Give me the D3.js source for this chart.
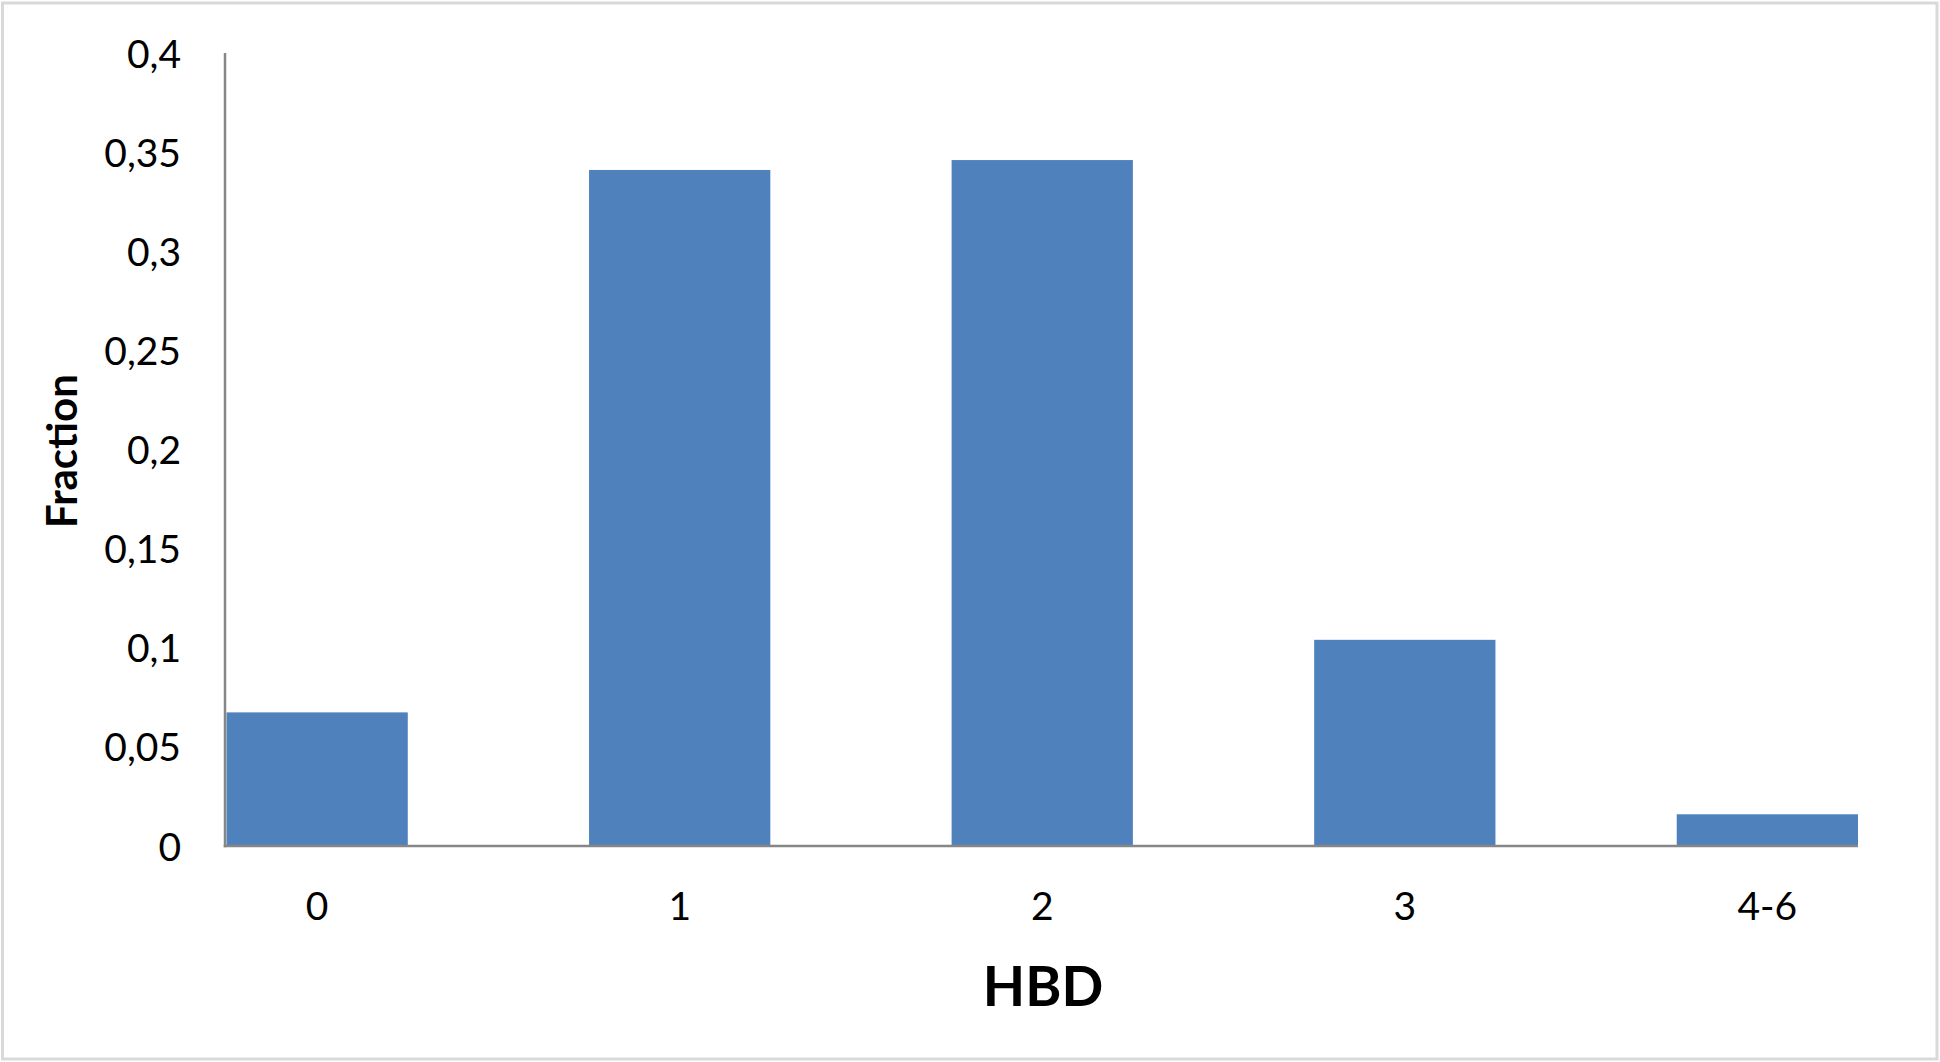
<!DOCTYPE html>
<html>
<head>
<meta charset="utf-8">
<script src="https://cdn.jsdelivr.net/npm/d3@7"></script>
<style>
  html, body { margin: 0; padding: 0; background: #fff; }
  svg { display: block; }
  text { font-family: Lato, "Open Sans", sans-serif; fill: #000; }
</style>
</head>
<body>
<svg id="chart" width="1940" height="1062"></svg>
<script>
const categories = ["0", "1", "2", "3", "4-6"];
const fractions = [0.0674, 0.341, 0.346, 0.104, 0.016];
const yTicks = [0, 0.05, 0.1, 0.15, 0.2, 0.25, 0.3, 0.35, 0.4];
const xTitle = "HBD";
const yTitle = "Fraction";

(function () {
const svg = d3.select("#chart");
const W = 1940, H = 1062;

// chart border
svg.append("rect")
  .attr("x", 2.5).attr("y", 3).attr("width", W - 5.5).attr("height", H - 6)
  .attr("fill", "#fff").attr("stroke", "#d9d9d9").attr("stroke-width", 3);

const pLeft = 225, pRight = 1858, pTop = 53, pBottom = 846;

const x = d3.scaleBand()
  .domain(categories)
  .range([pLeft + 1.5, pRight])
  .paddingInner(0.5)
  .paddingOuter(0);

const y = d3.scaleLinear().domain([0, 0.4]).range([pBottom, pTop]);

// bars
svg.append("g").selectAll("rect")
  .data(categories.map((c, i) => ({ c, v: fractions[i] })))
  .join("rect")
  .attr("x", d => x(d.c))
  .attr("y", d => y(d.v))
  .attr("width", x.bandwidth())
  .attr("height", d => pBottom - y(d.v))
  .attr("fill", "#4f81bd");

// y axis
const yAxis = d3.axisLeft(y)
  .tickValues(yTicks)
  .tickSize(0)
  .tickPadding(44)
  .tickFormat(d => String(+d.toFixed(2)).replace(".", ","));
const gy = svg.append("g").attr("transform", `translate(${pLeft},0)`).call(yAxis);
gy.select(".domain").remove();
gy.selectAll("text")
  .attr("font-family", "Lato, 'Open Sans', sans-serif")
  .attr("font-size", 39)
  .attr("fill", "#000")
  .attr("dy", "0.36em");

svg.append("line")
  .attr("x1", pLeft).attr("x2", pLeft)
  .attr("y1", pTop).attr("y2", pBottom + 1.25)
  .attr("stroke", "#868686").attr("stroke-width", 2.5);

// x axis
const xAxis = d3.axisBottom(x).tickSize(0).tickPadding(0);
const gx = svg.append("g").attr("transform", `translate(0,${pBottom})`).call(xAxis);
gx.select(".domain").remove();
gx.selectAll("text")
  .attr("font-family", "Lato, 'Open Sans', sans-serif")
  .attr("font-size", 39)
  .attr("fill", "#000")
  .attr("y", 74)
  .attr("dy", 0);

svg.append("line")
  .attr("x1", pLeft - 1.25).attr("x2", pRight)
  .attr("y1", pBottom).attr("y2", pBottom)
  .attr("stroke", "#868686").attr("stroke-width", 2.5);

// axis titles
svg.append("text")
  .attr("x", (pLeft + pRight) / 2 + 1.5)
  .attr("y", 1006)
  .attr("text-anchor", "middle")
  .attr("font-size", 55)
  .attr("font-weight", "bold")
  .text(xTitle);

svg.append("text")
  .attr("transform", "translate(77,451) rotate(-90)")
  .attr("text-anchor", "middle")
  .attr("font-size", 42)
  .attr("font-weight", "bold")
  .text(yTitle);
})();
</script>
</body>
</html>
